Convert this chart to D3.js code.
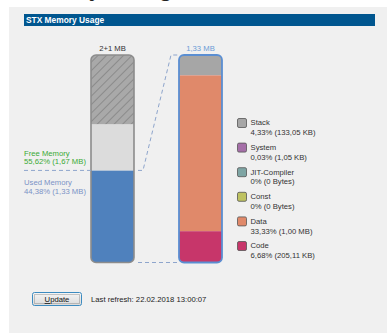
<!DOCTYPE html>
<html>
<head>
<meta charset="utf-8">
<script src="https://cdn.jsdelivr.net/npm/d3@7"></script>
<style>
  html, body { margin: 0; padding: 0; background: #ffffff; }
  svg { display: block; font-family: "Liberation Sans", Arial, sans-serif; }
</style>
</head>
<body>
<svg id="chart" width="387" height="336"></svg>
<script>
// Memory figures
const totalLabel = "2+1 MB";
const usedLabel = "1,33 MB";
const usedPct = 44.38;
const freePct = 55.62;
const extensionPct = 33.33;          // the "+1 MB" part of free memory (hatched)
const usedText = ["Used Memory", "44,38% (1,33 MB)"];
const freeText = ["Free Memory", "55,62% (1,67 MB)"];

// Breakdown of used memory
const categories = ["Stack", "System", "JIT-Compiler", "Const", "Data", "Code"];
const percents = [4.33, 0.03, 0, 0, 33.33, 6.68];
const sizes = ["133,05 KB", "1,05 KB", "0 Bytes", "0 Bytes", "1,00 MB", "205,11 KB"];
const colors = ["#a6a6a6", "#a56fa8", "#7ea5a4", "#bec261", "#e0896a", "#c7366a"];

const refreshText = "Last refresh: 22.02.2018 13:00:07";

const svg = d3.select("#chart");
const fs = 7.7;
const fmtPct = v => (v === 0 ? "0" : d3.format(".2f")(v).replace(".", ",")) + "%";

// page heading (runs off the top edge)
svg.append("text").attr("x", 5).attr("y", -5.2)
  .attr("font-size", 27).attr("fill", "#222").text("Memory Usage");

// panel + title bar
svg.append("rect").attr("x", 9).attr("y", 7).attr("width", 378).attr("height", 326).attr("fill", "#f0f0f0");
svg.append("rect").attr("x", 24).attr("y", 14).attr("width", 351).attr("height", 12).attr("fill", "#00568f");
svg.append("text").attr("x", 26).attr("y", 23.3).attr("fill", "#fff")
  .attr("font-size", 8.4).attr("font-weight", "bold").text("STX Memory Usage");

const barTop = 55, barBottom = 262.5, barW = 43;
const leftX = 91, rightX = 179;

const defs = svg.append("defs");
const hatch = defs.append("pattern").attr("id", "hatch").attr("patternUnits", "userSpaceOnUse")
  .attr("width", 6).attr("height", 6).attr("patternTransform", "rotate(45)");
hatch.append("rect").attr("width", 6).attr("height", 6).attr("fill", "#a9a9a9");
hatch.append("line").attr("x1", 0).attr("y1", 0).attr("x2", 0).attr("y2", 6)
  .attr("stroke", "#7a7a7a").attr("stroke-width", 1.3);

function clip(id, x) {
  defs.append("clipPath").attr("id", id).append("rect")
    .attr("x", x).attr("y", barTop).attr("width", barW).attr("height", barBottom - barTop).attr("rx", 5);
}
clip("clipL", leftX);
clip("clipR", rightX);

// left bar: whole memory in percent
const yL = d3.scaleLinear().domain([0, 100]).range([barBottom, barTop]);
const leftSegs = [
  { from: 0, to: usedPct, fill: "#4f81bd" },
  { from: usedPct, to: 100 - extensionPct, fill: "#dcdcdc" },
  { from: 100 - extensionPct, to: 100, fill: "url(#hatch)" }
];
const gL = svg.append("g").attr("clip-path", "url(#clipL)");
gL.selectAll("rect").data(leftSegs).join("rect")
  .attr("x", leftX).attr("width", barW)
  .attr("y", d => yL(d.to)).attr("height", d => yL(d.from) - yL(d.to))
  .attr("fill", d => d.fill);
svg.append("rect").attr("x", leftX).attr("y", barTop).attr("width", barW)
  .attr("height", barBottom - barTop).attr("rx", 5)
  .attr("fill", "none").attr("stroke", "#8c8c8c").attr("stroke-width", 1.6);

// right bar: used memory, stacked from the top
const yR = d3.scaleLinear().domain([0, usedPct]).range([barTop, barBottom]);
let acc = 0;
const rightSegs = categories.map((c, i) => {
  const s = { name: c, from: acc, to: acc + percents[i], fill: colors[i] };
  acc += percents[i];
  return s;
});
const gR = svg.append("g").attr("clip-path", "url(#clipR)");
gR.selectAll("rect").data(rightSegs).join("rect")
  .attr("x", rightX).attr("width", barW)
  .attr("y", d => yR(d.from)).attr("height", d => Math.max(0, yR(d.to) - yR(d.from)))
  .attr("fill", d => d.fill);
gR.append("rect").attr("x", rightX).attr("width", barW)
  .attr("y", yR(acc)).attr("height", Math.max(0, barBottom - yR(acc))).attr("fill", colors[5]);
svg.append("rect").attr("x", rightX).attr("y", barTop).attr("width", barW)
  .attr("height", barBottom - barTop).attr("rx", 5)
  .attr("fill", "none").attr("stroke", "#5a8ed2").attr("stroke-width", 1.8);

// bar captions
svg.append("text").attr("x", leftX + barW / 2).attr("y", 50.5).attr("text-anchor", "middle")
  .attr("font-size", fs).attr("fill", "#333").text(totalLabel);
svg.append("text").attr("x", rightX + barW / 2).attr("y", 50.5).attr("text-anchor", "middle")
  .attr("font-size", fs).attr("fill", "#6b9bd6").text(usedLabel);

// dashed guides
const dash = "4,3";
const yUsed = yL(usedPct);
svg.append("line").attr("x1", 24).attr("x2", leftX).attr("y1", yUsed).attr("y2", yUsed)
  .attr("stroke", "#8ea5cc").attr("stroke-dasharray", dash);
svg.append("path")
  .attr("d", `M${leftX + barW + 4},${yUsed} H${leftX + barW + 9} L${rightX - 8},${barTop} H${rightX}`)
  .attr("fill", "none").attr("stroke", "#8ea5cc").attr("stroke-dasharray", dash);
svg.append("line").attr("x1", leftX + barW + 4).attr("x2", rightX).attr("y1", barBottom).attr("y2", barBottom)
  .attr("stroke", "#8ea5cc").attr("stroke-dasharray", dash);

// free / used labels
function twoLines(lines, y, color) {
  const t = svg.append("text").attr("x", 24).attr("y", y).attr("font-size", fs).attr("fill", color);
  lines.forEach((l, i) => t.append("tspan").attr("x", 24).attr("dy", i ? 8.6 : 0).text(l));
}
twoLines(freeText, 155.8, "#3aaa35");
twoLines(usedText, 185, "#7b93c6");

// legend
const leg = svg.append("g").selectAll("g").data(categories).join("g")
  .attr("transform", (d, i) => `translate(237.5,${118.5 + i * 24.6})`);
leg.append("rect").attr("width", 9).attr("height", 9).attr("rx", 1.5)
  .attr("fill", (d, i) => colors[i]).attr("stroke", "#555").attr("stroke-width", 0.8);
leg.append("text").attr("x", 13).attr("y", 6.8).attr("font-size", fs).attr("fill", "#333").text(d => d);
leg.append("text").attr("x", 13).attr("y", 16.8).attr("font-size", fs).attr("fill", "#333")
  .text((d, i) => `${fmtPct(percents[i])} (${sizes[i]})`);

// update button and refresh time
const grad = defs.append("linearGradient").attr("id", "btn").attr("x1", 0).attr("x2", 0).attr("y1", 0).attr("y2", 1);
grad.append("stop").attr("offset", 0).attr("stop-color", "#f6f6f6");
grad.append("stop").attr("offset", 1).attr("stop-color", "#dadada");
svg.append("rect").attr("x", 32.5).attr("y", 292.5).attr("width", 49).attr("height", 13).attr("rx", 2)
  .attr("fill", "url(#btn)").attr("stroke", "#3c8bc0");
svg.append("rect").attr("x", 34.5).attr("y", 294.5).attr("width", 45).attr("height", 9)
  .attr("fill", "none").attr("stroke", "#555").attr("stroke-width", 0.6).attr("stroke-dasharray", "1,1");
const bt = svg.append("text").attr("x", 57).attr("y", 302).attr("text-anchor", "middle")
  .attr("font-size", fs).attr("fill", "#111");
bt.append("tspan").attr("text-decoration", "underline").text("U");
bt.append("tspan").text("pdate");
svg.append("text").attr("x", 91).attr("y", 302).attr("font-size", fs).attr("fill", "#222").text(refreshText);
</script>
</body>
</html>
